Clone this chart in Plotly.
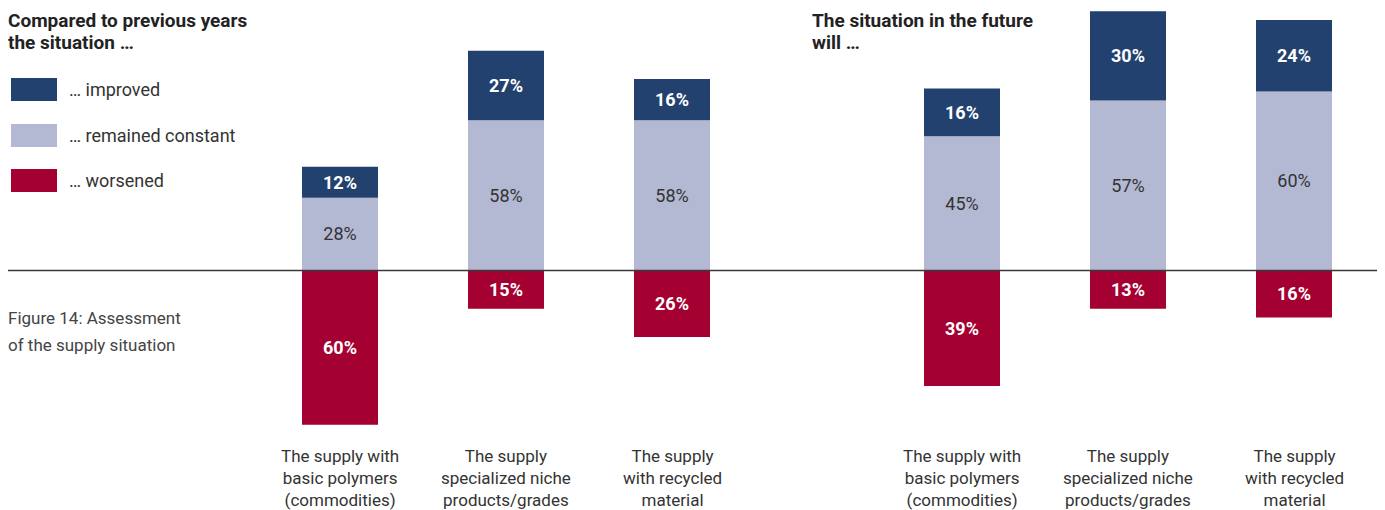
import plotly.graph_objects as go

# ---- data ----
categories = [
    "The supply with<br>basic polymers<br>(commodities)",
    "The supply<br>specialized niche<br>products/grades",
    "The supply<br>with recycled<br>material",
]
past_improved = [12, 27, 16]
past_constant = [28, 58, 58]
past_worsened = [60, 15, 26]
future_improved = [16, 30, 24]
future_constant = [45, 57, 60]
future_worsened = [39, 13, 16]
series_names = ["… improved", "… remained constant", "… worsened"]

title_left = ["Compared to previous years", "the situation …"]
title_right = ["The situation in the future", "will …"]
caption = ["Figure 14: Assessment", "of the supply situation"]

# ---- style ----
# the page body has an 8px margin; the figure is placed at (8, 8)
OFF = 8
W, H = 1385 - OFF, 510 - OFF
C_IMP = "#23416f"
C_CON = "#b3b8d3"
C_WOR = "#a50032"
FONT = "Roboto, Liberation Sans Narrow, Arial, sans-serif"
TXT = "#333333"


def px(x):
    return (x - OFF) / W


def py(y):
    return 1 - (y - OFF) / H


fig = go.Figure()


def add_panel(imp, con, wor, xa, ya):
    fig.add_trace(go.Bar(
        x=categories, y=con, text=[f"{v}%" for v in con],
        marker=dict(color=C_CON, line=dict(width=0)),
        textfont=dict(family=FONT, size=18, color=TXT),
        xaxis=xa, yaxis=ya, showlegend=False))
    fig.add_trace(go.Bar(
        x=categories, y=imp, text=[f"{v}%" for v in imp],
        marker=dict(color=C_IMP, line=dict(width=0)),
        textfont=dict(family=FONT, size=18, color="white", weight="bold"),
        xaxis=xa, yaxis=ya, showlegend=False))
    fig.add_trace(go.Bar(
        x=categories, y=[-v for v in wor], text=[f"{v}%" for v in wor],
        marker=dict(color=C_WOR, line=dict(width=0)),
        textfont=dict(family=FONT, size=18, color="white", weight="bold"),
        xaxis=xa, yaxis=ya, showlegend=False))


add_panel(past_improved, past_constant, past_worsened, "x", "y")
add_panel(future_improved, future_constant, future_worsened, "x2", "y2")

fig.update_traces(textposition="inside", insidetextanchor="middle",
                  constraintext="none", hoverinfo="skip")

# left scale ~2.58 px per %, right ~2.975 px per %, baseline at y=270 px
BASE = 270
sl, sr = 2.58, 2.975
top_px = BASE - OFF
bot_px = 510 - BASE
fig.update_layout(
    width=W, height=H,
    margin=dict(l=0, r=0, t=0, b=0),
    paper_bgcolor="white", plot_bgcolor="rgba(0,0,0,0)",
    barmode="relative", bargap=0.542,
    font=dict(family=FONT, color=TXT),
    showlegend=False,
    xaxis=dict(domain=[px(257), px(755)], range=[-0.5, 2.5], visible=False,
               anchor="y"),
    xaxis2=dict(domain=[px(879), px(1377)], range=[-0.5, 2.5], visible=False,
                anchor="y2"),
    yaxis=dict(domain=[0, 1], range=[-bot_px / sl, top_px / sl], visible=False,
               anchor="x"),
    yaxis2=dict(domain=[0, 1], range=[-bot_px / sr, top_px / sr], visible=False,
                anchor="x2"),
)

# baseline
fig.add_shape(type="line", xref="paper", yref="paper",
              x0=px(8), x1=px(1380), y0=py(270.5), y1=py(270.5),
              line=dict(color="#3a3a3a", width=1.5), layer="above")

# category labels
for xa in ["x", "x2"]:
    for c in categories:
        fig.add_annotation(x=c, xref=xa, y=py(444), yref="paper",
                           text=c, showarrow=False, yanchor="top",
                           xanchor="center", align="center",
                           font=dict(family=FONT, size=17, color=TXT))


def lines(texts, x, ycenters, size, color, weight="normal"):
    for t, yc in zip(texts, ycenters):
        fig.add_annotation(x=px(x), y=py(yc), xref="paper", yref="paper",
                           text=t, showarrow=False, xanchor="left",
                           yanchor="middle", align="left",
                           font=dict(family=FONT, size=size, color=color,
                                     weight=weight))


lines(title_left, 6, [21, 43], 19, "#222222", "bold")
lines(title_right, 810, [21, 43], 19, "#222222", "bold")
lines(caption, 6, [318, 345], 17, "#444444")

# legend swatches
for name, col, yc in zip(series_names, [C_IMP, C_CON, C_WOR], [89.5, 135.5, 180.5]):
    fig.add_shape(type="rect", xref="paper", yref="paper",
                  x0=px(11), x1=px(57), y0=py(yc - 11.5), y1=py(yc + 11.5),
                  fillcolor=col, line=dict(width=0))
    fig.add_annotation(x=px(67), y=py(yc), xref="paper", yref="paper",
                       text=name, showarrow=False, xanchor="left",
                       yanchor="middle",
                       font=dict(family=FONT, size=18, color=TXT))

fig.write_html("out.html")
